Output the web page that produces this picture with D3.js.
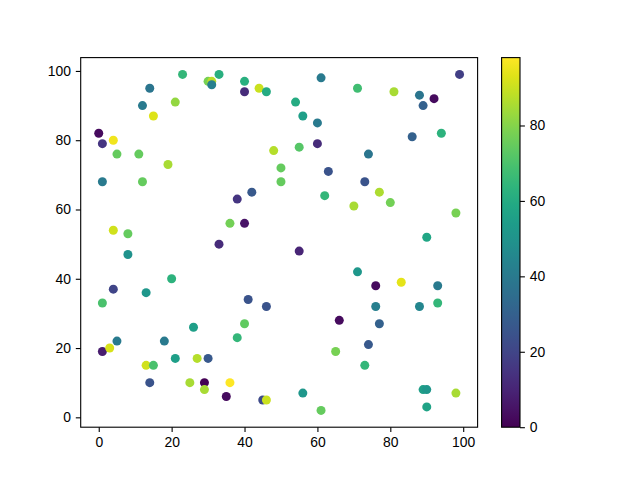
<!DOCTYPE html>
<html>
<head>
<meta charset="utf-8">
<script src="https://cdn.jsdelivr.net/npm/d3@7"></script>
<style>
  html, body { margin: 0; padding: 0; background: #fff; }
  svg { display: block; }
  text { font-family: "Liberation Sans", Arial, sans-serif; }
</style>
</head>
<body>
<svg id="chart" width="640" height="480"></svg>
<script>
// Data
const xValues = [23,30,31,31,33,14,12,21,15,0,1,4,5,11,19,1,12,40,40,44,46,54,56,60,61,60,55,48,50,63,50,99,71,81,88,92,89,94,86,74,73,77,70,80,98,90,71,76,83,93,76,88,93,4,8,8,20,4,13,1,36,40,38,42,62,33,55,41,46,5,1,3,18,26,13,15,14,21,27,30,25,29,29,40,38,36,35,45,46,56,61,66,65,74,77,73,89,90,90,98];
const yValues = [99,97,97,96,99,95,90,91,87,82,79,80,76,76,73,68,68,97,94,95,94,91,87,85,98,79,78,77,72,71,68,99,95,94,93,92,90,82,81,76,68,65,61,62,59,52,42,38,39,38,32,32,33,54,53,47,40,37,36,33,56,56,63,65,64,50,48,34,32,22,19,20,22,26,15,15,10,17,17,17,10,10,8,27,23,10,6,5,5,7,2,28,19,21,27,15,8,8,3,7];
const colorValues = [65,78,88,42,62,38,40,82,93,3,15,96,75,75,85,40,75,62,12,90,60,60,55,40,40,12,72,87,75,25,75,18,68,85,38,3,30,63,30,38,25,86,85,77,78,58,52,3,94,40,42,45,65,91,75,50,63,20,52,70,77,5,15,27,65,12,10,25,25,40,8,92,40,55,91,70,25,55,87,27,85,0,85,74,65,98,3,22,90,52,75,3,78,27,30,65,55,52,57,85];
const colorTicks = [0, 20, 40, 60, 80];
const axisTicks = [0, 20, 40, 60, 80, 100];

const points = xValues.map((x, i) => ({ x, y: yValues[i], c: colorValues[i] }));

const svg = d3.select("#chart");
const ax = { left: 80.7, right: 477.6, top: 57.6, bottom: 427.2 };
const cb = { left: 501.6, right: 520.0, top: 57.6, bottom: 427.2 };
const tickLen = 4.9, pad = 4.9, fontSize = 13.9;

function padded(ext) {
  const m = (ext[1] - ext[0]) * 0.05;
  return [ext[0] - m, ext[1] + m];
}

const x = d3.scaleLinear().domain(padded(d3.extent(xValues))).range([ax.left, ax.right]);
const y = d3.scaleLinear().domain(padded(d3.extent(yValues))).range([ax.bottom, ax.top]);
const color = d3.scaleSequential(d3.interpolateViridis).domain(d3.extent(colorValues));

// points
svg.append("g").selectAll("circle").data(points).join("circle")
  .attr("cx", d => x(d.x))
  .attr("cy", d => y(d.y))
  .attr("r", 4.5)
  .attr("fill", d => color(d.c));

// spines
svg.append("rect")
  .attr("x", ax.left).attr("y", ax.top)
  .attr("width", ax.right - ax.left).attr("height", ax.bottom - ax.top)
  .attr("fill", "none").attr("stroke", "#000").attr("stroke-width", 1.1);

function styleAxis(g) {
  g.select(".domain").remove();
  g.selectAll(".tick line").attr("stroke", "#000").attr("stroke-width", 1.1);
  g.selectAll(".tick text").attr("font-size", fontSize).attr("fill", "#000")
    .style("font-family", '"Liberation Sans", Arial, sans-serif');
}

svg.append("g").attr("transform", `translate(0,${ax.bottom})`)
  .call(d3.axisBottom(x).tickValues(axisTicks).tickSize(tickLen).tickPadding(pad).tickFormat(d3.format("d")))
  .call(styleAxis);

svg.append("g").attr("transform", `translate(${ax.left},0)`)
  .call(d3.axisLeft(y).tickValues(axisTicks).tickSize(tickLen).tickPadding(pad).tickFormat(d3.format("d")))
  .call(styleAxis);

// colorbar
const defs = svg.append("defs");
const grad = defs.append("linearGradient").attr("id", "cbgrad")
  .attr("x1", "0").attr("y1", "1").attr("x2", "0").attr("y2", "0");
d3.range(0, 1.0001, 0.05).forEach(t => {
  grad.append("stop").attr("offset", t).attr("stop-color", d3.interpolateViridis(t));
});
svg.append("rect")
  .attr("x", cb.left).attr("y", cb.top)
  .attr("width", cb.right - cb.left).attr("height", cb.bottom - cb.top)
  .attr("fill", "url(#cbgrad)");
svg.append("rect")
  .attr("x", cb.left).attr("y", cb.top)
  .attr("width", cb.right - cb.left).attr("height", cb.bottom - cb.top)
  .attr("fill", "none").attr("stroke", "#000").attr("stroke-width", 1.1);

const cy = d3.scaleLinear().domain(color.domain()).range([cb.bottom, cb.top]);
svg.append("g").attr("transform", `translate(${cb.right},0)`)
  .call(d3.axisRight(cy).tickValues(colorTicks).tickSize(tickLen).tickPadding(pad).tickFormat(d3.format("d")))
  .call(styleAxis);
</script>
</body>
</html>
